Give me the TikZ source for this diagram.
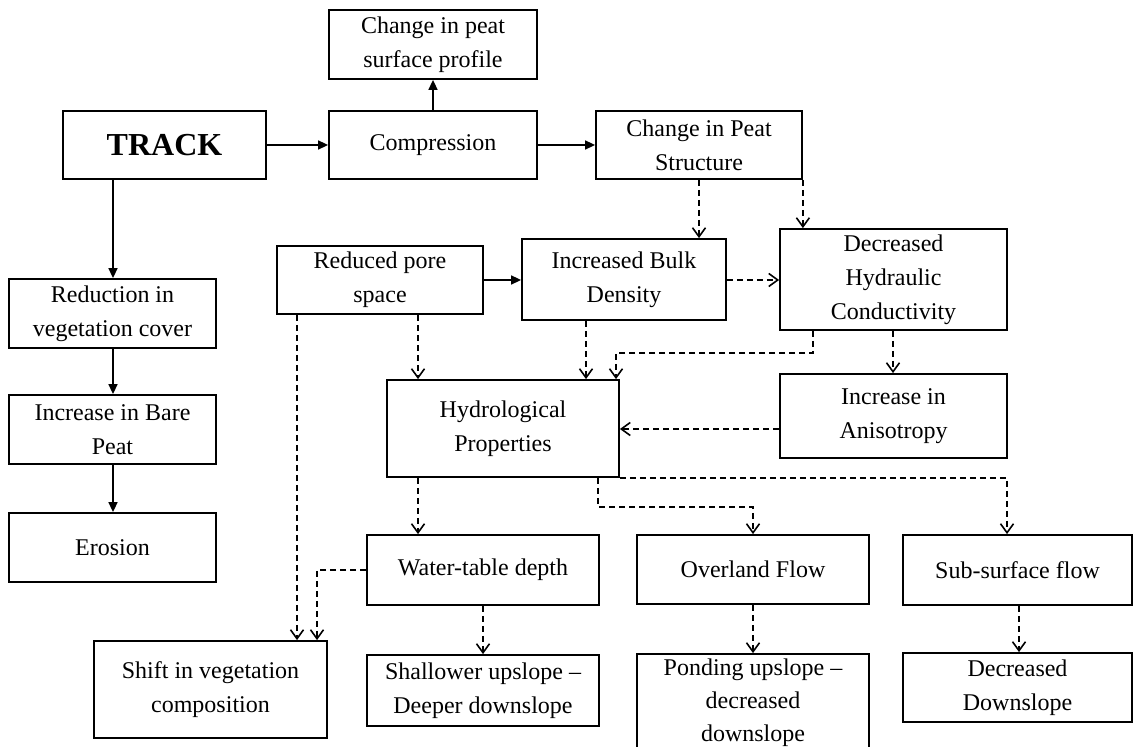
\documentclass[tikz,border=0pt]{standalone}
\usepackage{fontspec}
\setmainfont{Liberation Serif}
\usetikzlibrary{arrows.meta}
\begin{document}
\begin{tikzpicture}[x=0.5pt,y=-0.5pt,
  box/.style={draw, line width=0.9pt, align=center, inner sep=0pt, font=\fontsize{12}{17}\selectfont},
  sol/.style={line width=0.8pt, -{Triangle[length=5pt,width=4.5pt]}},
  dl/.style={line width=0.8pt, dash pattern=on 3pt off 2pt, -{Straight Barb[length=4.5pt,width=6.5pt]}}]
\useasboundingbox (0,0) rectangle (1133,747);
\clip (0,0) rectangle (1133,747);
\fill[white] (0,0) rectangle (1133,747);

% columns and rows used by connectors
\coordinate (x113) at (113,0);
\coordinate (x297) at (297,0);
\coordinate (x317) at (317,0);
\coordinate (x418) at (418,0);
\coordinate (x586) at (586,0);
\coordinate (x598) at (598,0);
\coordinate (x616) at (616,0);
\coordinate (x813) at (813,0);
\coordinate (x893) at (893,0);
\coordinate (x1007) at (1007,0);
\coordinate (x1019) at (1019,0);
\coordinate (y280) at (0,280);
\coordinate (y429) at (0,429);

% nodes
\node[box, minimum width=104pt, minimum height=34.5pt] (cpsp) at (433,44.5) {Change in peat\\surface profile};
\node[box, minimum width=101.5pt, minimum height=34pt, font=\fontsize{16}{19}\selectfont\bfseries] (track) at (164.5,145) {TRACK};
\node[box, minimum width=104pt, minimum height=34pt] (comp) at (433,145) {Compression};
\node[box, minimum width=103pt, minimum height=34pt] (cps) at (699,145) {Change in Peat\\Structure};
\node[box, minimum width=103pt, minimum height=34pt] (rps) at (380,280) {Reduced pore\\space};
\node[box, minimum width=102pt, minimum height=40.5pt] (ibd) at (624,279.5) {Increased Bulk\\Density};
\node[box, minimum width=113.5pt, minimum height=50.5pt] (dhc) at (893.5,279.5) {Decreased\\Hydraulic\\Conductivity};
\node[box, minimum width=103.5pt, minimum height=34.5pt] (red) at (112.5,313.5) {Reduction in\\vegetation cover};
\node[box, minimum width=103.5pt, minimum height=34.5pt] (bare) at (112.5,429.5) {Increase in Bare\\Peat};
\node[box, minimum width=103.5pt, minimum height=34.5pt] (eros) at (112.5,547.5) {Erosion};
\node[box, minimum width=116pt, minimum height=48.5pt] (hydro) at (503,428.5) {Hydrological\\Properties};
\node[box, minimum width=113.5pt, minimum height=42pt] (aniso) at (893.5,416) {Increase in\\Anisotropy};
\node[box, minimum width=116pt, minimum height=35pt] (wt) at (483,570) {Water-table depth};
\node[box, minimum width=116pt, minimum height=34.5pt] (over) at (753,569.5) {Overland Flow};
\node[box, minimum width=114.5pt, minimum height=35pt] (sub) at (1017.5,570) {Sub-surface flow};
\node[box, minimum width=116.5pt, minimum height=48.5pt] (shift) at (210.5,689.5) {Shift in vegetation\\composition};
\node[box, minimum width=116pt, minimum height=35.5pt] (shal) at (483,690.5) {Shallower upslope –\\Deeper downslope};
\node[box, minimum width=116pt, minimum height=49pt, font=\fontsize{12}{16.5}\selectfont] (pond) at (753,703) {Ponding upslope –\\decreased\\downslope};
\node[box, minimum width=114.5pt, minimum height=34.5pt] (dec) at (1017.5,687.5) {Decreased\\Downslope};

% solid connectors
\draw[sol] (track.east) -- (comp.west);
\draw[sol] (comp.north) -- (cpsp.south);
\draw[sol] (comp.east) -- (cps.west);
\draw[sol] (track.south -| x113) -- (red.north -| x113);
\draw[sol] (red.south -| x113) -- (bare.north -| x113);
\draw[sol] (bare.south -| x113) -- (eros.north -| x113);
\draw[sol] (rps.east) -- (ibd.west |- rps.east);

% dashed connectors
\draw[dl] (cps.south) -- (ibd.north -| cps.south);
\draw[dl] (cps.south east) -- (dhc.north -| cps.south east);
\draw[dl] (ibd.east |- y280) -- (dhc.west |- y280);
\draw[dl] (ibd.south -| x586) -- (hydro.north -| x586);
\draw[dl] (dhc.south -| x813) -- ++(0,22) -| (hydro.north -| x616);
\draw[dl] (dhc.south -| x893) -- (aniso.north -| x893);
\draw[dl] (aniso.west |- y429) -- (hydro.east |- y429);
\draw[dl] (rps.south -| x418) -- (hydro.north -| x418);
\draw[dl] (rps.south -| x297) -- (shift.north -| x297);
\draw[dl] (hydro.south -| x418) -- (wt.north -| x418);
\draw[dl] (hydro.south -| x598) -- ++(0,29) -| (over.north);
\draw[dl] (hydro.south east) -| (sub.north -| x1007);
\draw[dl] (wt.west) -| (shift.north -| x317);
\draw[dl] (wt.south) -- (shal.north);
\draw[dl] (over.south) -- (pond.north);
\draw[dl] (sub.south -| x1019) -- (dec.north -| x1019);
\end{tikzpicture}
\end{document}
